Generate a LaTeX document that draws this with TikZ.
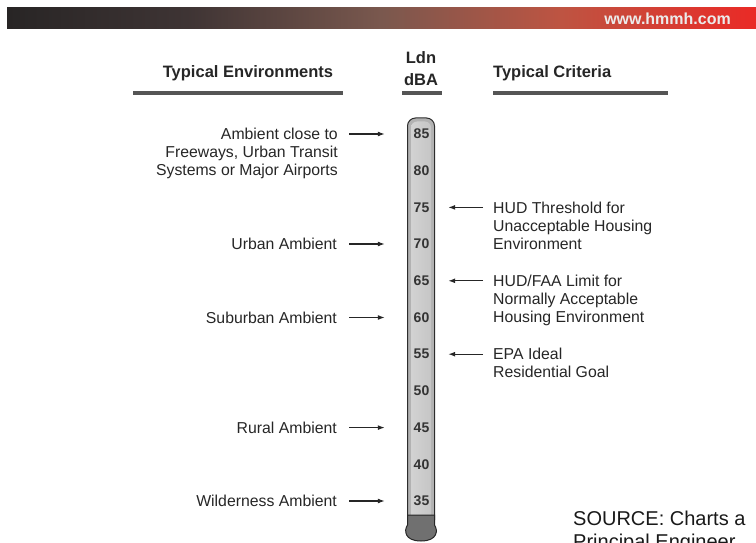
\documentclass[tikz,border=0pt]{standalone}
\usepackage{fontspec}
\setmainfont{Liberation Sans}
\usetikzlibrary{arrows.meta}
\definecolor{bannerdark}{RGB}{40,37,37}
\definecolor{bannerdusk}{RGB}{62,52,52}
\definecolor{bannerbrown}{RGB}{122,88,78}
\definecolor{bannerrust}{RGB}{190,84,66}
\definecolor{bannerred}{RGB}{234,42,38}
\definecolor{rulegray}{RGB}{85,85,85}
\definecolor{tubegray}{RGB}{112,112,112}
\pgfdeclarehorizontalshading{bannershade}{100bp}{color(0bp)=(bannerdark); color(25bp)=(bannerdark); color(37bp)=(bannerdusk); color(50bp)=(bannerbrown); color(62bp)=(bannerrust); color(75bp)=(bannerred); color(100bp)=(bannerred)}

\begin{document}
\begin{tikzpicture}[x=1pt,y=-1pt]
\tikzstyle{envtext}=[align=right,anchor=north east,inner sep=0pt,text=black!85,font=\fontsize{15.8}{18}\selectfont]
\tikzstyle{crittext}=[align=left,anchor=north west,inner sep=0pt,text=black!85,font=\fontsize{15.8}{18}\selectfont]
\tikzstyle{head}=[inner sep=0pt,text=black!85,font=\fontsize{16.5}{22}\selectfont\bfseries]
\tikzstyle{headrule}=[draw=rulegray,line width=3.5pt]
\tikzstyle{level}=[inner sep=0pt,minimum width=27pt,text=black!80,font=\fontsize{14}{16}\selectfont\bfseries]
\tikzstyle{pointer}=[-{Latex[length=7pt,width=5pt]},line width=1.2pt,draw=black!85]
\useasboundingbox (0,0) rectangle (756,543);
\clip (0,0) rectangle (756,543);
% banner
\shade[shading=bannershade] (7,8) rectangle (756,29);
\node[anchor=east,inner sep=0pt,text=white!92!black,font=\fontsize{16}{18}\selectfont\bfseries] (site) at (731,19) {www.hmmh.com};
% headings
\node[head] (envhead) at (248,73) {Typical Environments};
\draw[headrule] (133,93) -- (343,93);
\node[head,align=center] (ldn) at (421,69) {Ldn\\dBA};
\draw[headrule] (402,93) -- (442,93);
\node[head,anchor=west] (crithead) at (493,73) {Typical Criteria};
\draw[headrule] (493,93) -- (668,93);
% tube
\filldraw[fill=gray!60,draw=gray!35!black,line width=1pt,rounded corners=8pt] (407.5,520) -- (407.5,118) -- (434.5,118) -- (434.5,520);
\shade[left color=gray!35,middle color=white,right color=gray!45,rounded corners=6pt] (411,520) -- (411,121.5) -- (431,121.5) -- (431,520) -- cycle;
\filldraw[fill=tubegray,draw=gray!30!black,line width=1pt] (407.5,515) -- (407.5,525) .. controls (404,530) and (404,541) .. (421,541) .. controls (438,541) and (438,530) .. (434.5,525) -- (434.5,515) -- cycle;
\node[level] (n85) at (421.5,134) {85};
\node[level] (n80) at (421.5,170.7) {80};
\node[level] (n75) at (421.5,207.4) {75};
\node[level] (n70) at (421.5,244) {70};
\node[level] (n65) at (421.5,280.8) {65};
\node[level] (n60) at (421.5,317.5) {60};
\node[level] (n55) at (421.5,354.2) {55};
\node[level] (n50) at (421.5,391) {50};
\node[level] (n45) at (421.5,427.6) {45};
\node[level] (n40) at (421.5,464.3) {40};
\node[level] (n35) at (421.5,501) {35};
% environments
\node[envtext] (ambient) at (338,128) {Ambient close to\\Freeways, Urban Transit\\Systems or Major Airports};
\node[envtext] (urban) at (337,238) {Urban Ambient};
\node[envtext] (suburban) at (337,311.5) {Suburban Ambient};
\node[envtext] (rural) at (337,421.6) {Rural Ambient};
\node[envtext] (wild) at (337,495) {Wilderness Ambient};
\draw[pointer,shorten <=11pt,shorten >=23pt] (ambient.east |- n85) -- (n85.west);
\draw[pointer,shorten <=12pt,shorten >=23pt] (urban.east |- n70) -- (n70.west);
\draw[pointer,shorten <=12pt,shorten >=23pt] (suburban.east |- n60) -- (n60.west);
\draw[pointer,shorten <=12pt,shorten >=23pt] (rural.east |- n45) -- (n45.west);
\draw[pointer,shorten <=12pt,shorten >=23pt] (wild.east |- n35) -- (n35.west);
% criteria
\node[crittext] (hud) at (493,201.4) {HUD Threshold for\\Unacceptable Housing\\Environment};
\node[crittext] (faa) at (493,274.8) {HUD/FAA Limit for\\Normally Acceptable\\Housing Environment};
\node[crittext] (epa) at (493,348.2) {EPA Ideal\\Residential Goal};
\draw[pointer,shorten <=10pt,shorten >=13pt] (hud.west |- n75) -- (n75.east);
\draw[pointer,shorten <=10pt,shorten >=13pt] (faa.west |- n65) -- (n65.east);
\draw[pointer,shorten <=10pt,shorten >=13pt] (epa.west |- n55) -- (n55.east);
% source
\node[anchor=north west,align=left,inner sep=0pt,text=black!90,font=\fontsize{20}{23}\selectfont] (source) at (573,511) {SOURCE: Charts a\\Principal Engineer};
\end{tikzpicture}
\end{document}
